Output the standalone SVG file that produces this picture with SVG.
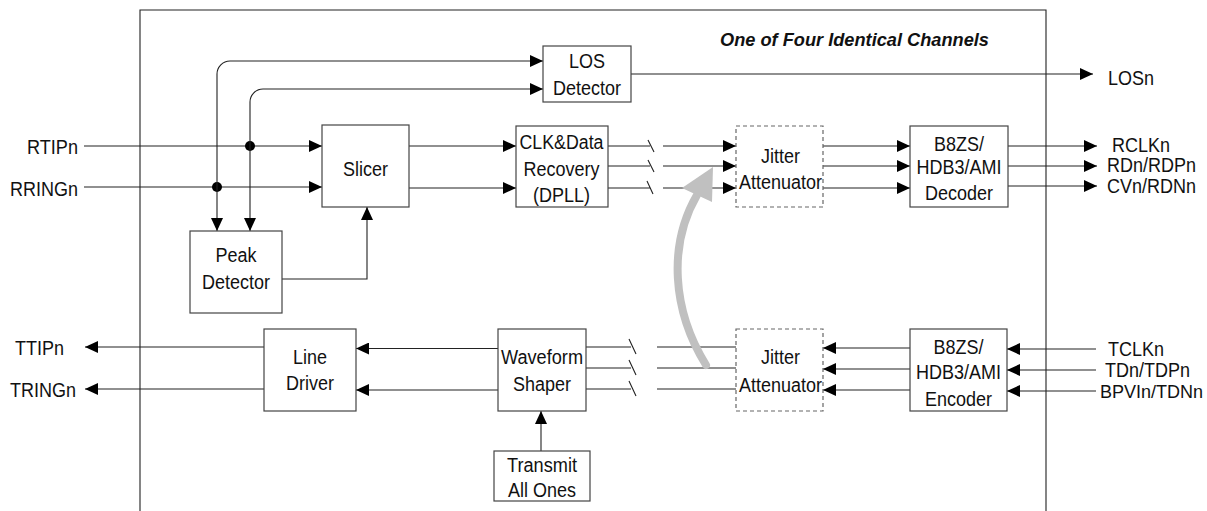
<svg xmlns="http://www.w3.org/2000/svg" width="1207" height="511" viewBox="0 0 1207 511">
<style>
text{font-family:"Liberation Sans",Arial,sans-serif;font-size:20px;fill:#111}
.c{text-anchor:middle}
.box{fill:#fff;stroke:#444;stroke-width:1.2}
.dash{fill:#fff;stroke:#666;stroke-width:1.2;stroke-dasharray:4,3}
.ln{fill:none;stroke:#222;stroke-width:1.1}
.ar{fill:none;stroke:#222;stroke-width:1.1;marker-end:url(#ah)}
.title{font-weight:bold;font-style:italic;font-size:18px}
</style>
<defs>
<marker id="ah" markerUnits="userSpaceOnUse" viewBox="0 0 13 12" markerWidth="13" markerHeight="12" refX="13" refY="6" orient="auto">
<path d="M0,0 L13,6 L0,12 z" fill="#000"/>
</marker>
</defs>
<rect width="1207" height="511" fill="#fff"/>
<g id="frame">
<path class="ln" d="M140,511 V10 H1046 V511" stroke="#333"/>
<text class="title" x="720" y="45.5" textLength="269" lengthAdjust="spacingAndGlyphs">One of Four Identical Channels</text>
</g>
<g id="connectors">
<path class="ar" d="M84,146 H322"/>
<path class="ar" d="M84,187 H322"/>
<circle cx="250" cy="146" r="5" fill="#000"/>
<circle cx="217" cy="187" r="5" fill="#000"/>
<path class="ar" d="M230,61 H543"/>
<path class="ar" d="M230,61 A13,13 0 0 0 217,74 V231"/>
<path class="ar" d="M263,89 H543"/>
<path class="ar" d="M263,89 A13,13 0 0 0 250,102 V231"/>
<path class="ar" d="M282,279 H367 V207"/>
<path class="ar" d="M409,146 H516"/>
<path class="ar" d="M409,188 H516"/>
<path class="ln" d="M608,146 H650 M648,140 L654,152 M608,166 H650 M648,160 L654,172 M608,188 H650 M647,181 L653,194"/>
<path class="ar" d="M663,146 H736"/>
<path class="ar" d="M663,166 H736"/>
<path class="ar" d="M663,188 H736"/>
<path class="ar" d="M823,146 H910"/>
<path class="ar" d="M823,166 H910"/>
<path class="ar" d="M823,188 H910"/>
<path class="ar" d="M1008,146 H1097"/>
<path class="ar" d="M1008,166 H1097"/>
<path class="ar" d="M1008,186 H1097"/>
<path class="ar" d="M631,74 H1093"/>
<path class="ar" d="M1096,349 H1007"/>
<path class="ar" d="M1096,370 H1007"/>
<path class="ar" d="M1096,391 H1007"/>
<path class="ar" d="M910,348 H823"/>
<path class="ar" d="M910,369 H823"/>
<path class="ar" d="M910,390 H823"/>
<path class="ln" d="M736,347 H657 M736,368 H657 M736,389 H657"/>
<path class="ln" d="M586,347 H631 M629,339 L636,354 M586,368 H631 M629,360 L636,375 M586,389 H631 M629,381 L636,396"/>
<path class="ar" d="M498,348.5 H356"/>
<path class="ar" d="M498,390 H356"/>
<path class="ar" d="M264,347 H85"/>
<path class="ar" d="M264,389 H85"/>
<path class="ar" d="M541,451 V411"/>
<path d="M706,365 C672,310 668,245 697,195" fill="none" stroke="#c0c0c0" stroke-width="8" stroke-linecap="round"/>
<polygon points="713,167 682,188 712,202" fill="#c0c0c0"/>
</g>
<g id="los-detector">
<rect class="box" x="543" y="46" width="88" height="56"/>
<text class="c" x="587" y="67.5" textLength="36" lengthAdjust="spacingAndGlyphs">LOS</text>
<text class="c" x="587" y="95" textLength="68" lengthAdjust="spacingAndGlyphs">Detector</text>
</g>
<g id="slicer">
<rect class="box" x="322" y="125" width="87" height="82"/>
<text class="c" x="365.5" y="175.5" textLength="45" lengthAdjust="spacingAndGlyphs">Slicer</text>
</g>
<g id="peak-detector">
<rect class="box" x="190" y="231" width="92" height="82"/>
<text class="c" x="236" y="262" textLength="41" lengthAdjust="spacingAndGlyphs">Peak</text>
<text class="c" x="236" y="289" textLength="68" lengthAdjust="spacingAndGlyphs">Detector</text>
</g>
<g id="clk-data-recovery">
<rect class="box" x="516" y="126" width="92" height="81"/>
<text class="c" x="561.5" y="148.5" textLength="84" lengthAdjust="spacingAndGlyphs">CLK&amp;Data</text>
<text class="c" x="561.5" y="175.5" textLength="76" lengthAdjust="spacingAndGlyphs">Recovery</text>
<text class="c" x="561.5" y="202" textLength="57" lengthAdjust="spacingAndGlyphs">(DPLL)</text>
</g>
<g id="jitter-rx">
<rect class="dash" x="736" y="126" width="87" height="81"/>
<text class="c" x="780.5" y="162.5" textLength="39" lengthAdjust="spacingAndGlyphs">Jitter</text>
<text class="c" x="780.5" y="189" textLength="83" lengthAdjust="spacingAndGlyphs">Attenuator</text>
</g>
<g id="decoder">
<rect class="box" x="910" y="126" width="98" height="81"/>
<text class="c" x="959" y="151" textLength="50" lengthAdjust="spacingAndGlyphs">B8ZS/</text>
<text class="c" x="959" y="173.5" textLength="85" lengthAdjust="spacingAndGlyphs">HDB3/AMI</text>
<text class="c" x="959" y="200" textLength="68" lengthAdjust="spacingAndGlyphs">Decoder</text>
</g>
<g id="line-driver">
<rect class="box" x="264" y="329" width="92" height="82"/>
<text class="c" x="310" y="363.5" textLength="34" lengthAdjust="spacingAndGlyphs">Line</text>
<text class="c" x="310" y="390" textLength="48" lengthAdjust="spacingAndGlyphs">Driver</text>
</g>
<g id="waveform-shaper">
<rect class="box" x="498" y="329" width="88" height="82"/>
<text class="c" x="542" y="364" textLength="82" lengthAdjust="spacingAndGlyphs">Waveform</text>
<text class="c" x="542" y="391" textLength="58" lengthAdjust="spacingAndGlyphs">Shaper</text>
</g>
<g id="jitter-tx">
<rect class="dash" x="736" y="329" width="87" height="82"/>
<text class="c" x="780.5" y="364" textLength="39" lengthAdjust="spacingAndGlyphs">Jitter</text>
<text class="c" x="780.5" y="391.5" textLength="83" lengthAdjust="spacingAndGlyphs">Attenuator</text>
</g>
<g id="encoder">
<rect class="box" x="910" y="329" width="97" height="82"/>
<text class="c" x="958.5" y="354" textLength="50" lengthAdjust="spacingAndGlyphs">B8ZS/</text>
<text class="c" x="958.5" y="379" textLength="85" lengthAdjust="spacingAndGlyphs">HDB3/AMI</text>
<text class="c" x="958.5" y="405.5" textLength="67" lengthAdjust="spacingAndGlyphs">Encoder</text>
</g>
<g id="transmit-all-ones">
<rect class="box" x="494" y="451" width="96" height="50"/>
<text class="c" x="542" y="471.5" textLength="70" lengthAdjust="spacingAndGlyphs">Transmit</text>
<text class="c" x="542" y="497" textLength="68" lengthAdjust="spacingAndGlyphs">All Ones</text>
</g>
<g id="pins">
<text x="78" y="153.5" text-anchor="end" textLength="51" lengthAdjust="spacingAndGlyphs">RTIPn</text>
<text x="78" y="195.5" text-anchor="end" textLength="68" lengthAdjust="spacingAndGlyphs">RRINGn</text>
<text x="1108" y="84.5" textLength="46" lengthAdjust="spacingAndGlyphs">LOSn</text>
<text x="1112" y="152" textLength="58" lengthAdjust="spacingAndGlyphs">RCLKn</text>
<text x="1107" y="172" textLength="89" lengthAdjust="spacingAndGlyphs">RDn/RDPn</text>
<text x="1107" y="192.5" textLength="89" lengthAdjust="spacingAndGlyphs">CVn/RDNn</text>
<text x="15" y="354.5" textLength="49" lengthAdjust="spacingAndGlyphs">TTIPn</text>
<text x="10" y="396.5" textLength="66" lengthAdjust="spacingAndGlyphs">TRINGn</text>
<text x="1108" y="355.5" textLength="56" lengthAdjust="spacingAndGlyphs">TCLKn</text>
<text x="1105" y="376.5" textLength="85" lengthAdjust="spacingAndGlyphs">TDn/TDPn</text>
<text x="1100" y="397.5" style="font-size:18px">BPVIn/TDNn</text>
</g>
</svg>
